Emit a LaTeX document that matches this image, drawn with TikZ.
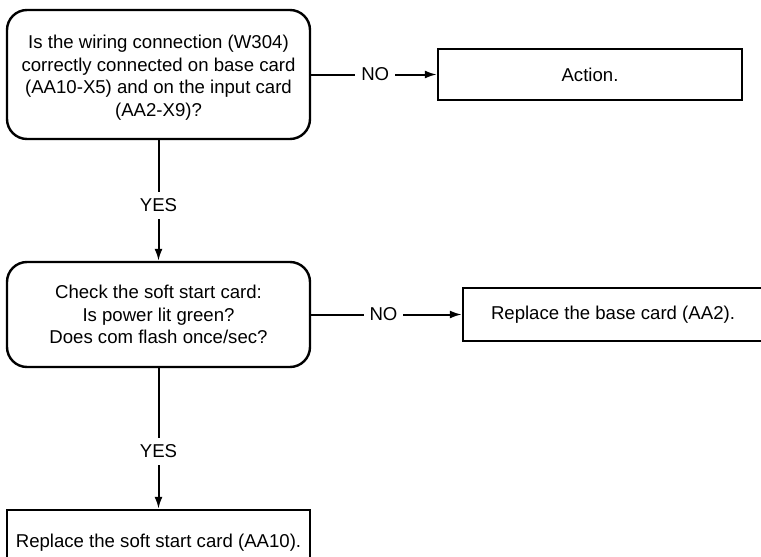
\documentclass[tikz,border=0pt]{standalone}
\usepackage{fontspec}
\setmainfont{Liberation Sans}
\usetikzlibrary{arrows.meta}
\begin{document}
\begin{tikzpicture}[x=1pt,y=-1pt,
  every node/.style={font=\fontsize{18.6}{22.7}\selectfont, inner sep=0pt},
  question/.style={draw, line width=2.4pt, rounded corners=20pt, align=center,
    minimum width=303pt},
  action/.style={draw, line width=2.4pt, align=center, minimum height=52pt},
  flow/.style={line width=2pt, -{Latex[length=12pt,width=8pt]}},
  lbl/.style={fill=white, inner xsep=6pt, inner ysep=3pt}]
\useasboundingbox (0,0) rectangle (761,557);

% decision boxes
\node[question, minimum height=129pt] (q1) at (158.5,74.5)
  {\rule{0pt}{20pt}Is the wiring connection (W304)\\correctly connected on base card\\(AA10-X5) and on the input card\\(AA2-X9)?};
\node[question, minimum height=105pt] (q2) at (158.5,314.5)
  {Check the soft start card:\\Is power lit green?\\Does com flash once/sec?};

% action boxes
\node[action, minimum width=304pt, minimum height=51pt] (a1) at (590,74.5) {Action.};
\node[action, minimum width=300pt, minimum height=53pt] (a2) at (613,314.5) {Replace the base card (AA2).};
\node[action, minimum width=303pt, minimum height=66pt] (a3) at (158.5,543) {Replace the soft start card (AA10).};

% connectors
\draw[flow] (q1.east) -- node[lbl, pos=0.51] {NO} (a1.west);
\draw[flow] (q2.east) -- node[lbl, pos=0.48] {NO} (a2.west);
\draw[flow] (q1.south) -- node[lbl, pos=0.54, inner xsep=3pt, inner ysep=7pt] {YES} (q2.north);
\draw[flow] (q2.south) -- node[lbl, pos=0.59, inner xsep=3pt, inner ysep=7pt] {YES} (a3.north);
\end{tikzpicture}
\end{document}
